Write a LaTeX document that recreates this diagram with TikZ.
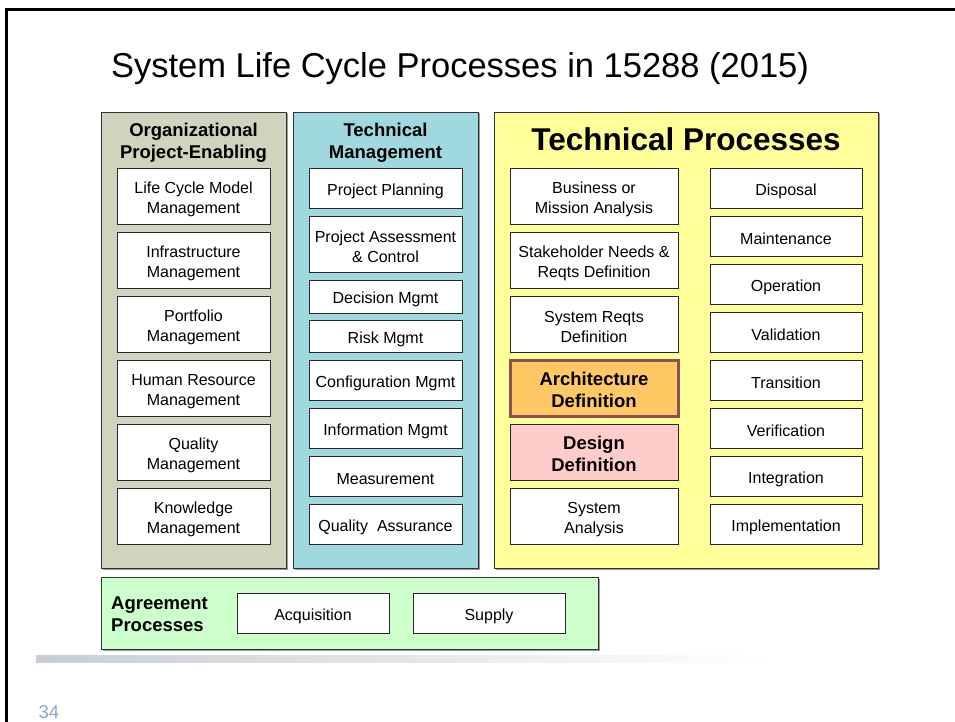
\documentclass[tikz,border=0pt]{standalone}
\usepackage{fontspec}
\setmainfont{Liberation Sans}
\usetikzlibrary{shadows}

\definecolor{orgGreen}{RGB}{206,212,190}
\definecolor{tmBlue}{RGB}{160,216,224}
\definecolor{tpYellow}{RGB}{255,255,153}
\definecolor{agrGreen}{RGB}{204,255,204}
\definecolor{archOrange}{RGB}{255,200,100}
\definecolor{archBrown}{RGB}{140,82,82}
\definecolor{designPink}{RGB}{255,204,204}
\definecolor{barGrey}{RGB}{200,206,211}
\definecolor{pageBlue}{RGB}{140,165,200}

% invisible strut that lowers the text a little inside its box
\newcommand{\boxStrut}{\rule{0pt}{17.5pt}}

\begin{document}
\begin{tikzpicture}
[x=1pt,y=-1pt,
  groupBox/.style={shape=rectangle,draw=black!80,line width=0.9pt,inner sep=0pt,%
    drop shadow={shadow xshift=1.5pt,shadow yshift=-1.5pt,fill=black!40,opacity=1}},%
  procBox/.style={shape=rectangle,draw=black!85,line width=0.9pt,fill=white,inner sep=0pt,%
    align=center,font=\fontsize{16}{20}\selectfont},%
  headText/.style={align=center,inner sep=0pt,font=\fontsize{18.5}{22}\selectfont\bfseries}]
\useasboundingbox (0,0) rectangle (955,722);

%% slide frame, title and footer
\draw[line width=3pt] (6,722) -- (6,9.5) -- (955,9.5);
\node (title) [anchor=base,inner sep=0pt,font=\fontsize{34.5}{40}\selectfont]
  at (460,78) {System Life Cycle Processes in 15288 (2015)};
\shade[left color=barGrey,middle color=barGrey!80,right color=white] (36,655) rectangle (770,662);
\node (pageNum) [text=pageBlue,inner sep=0pt,font=\fontsize{18.5}{20}\selectfont] at (49,712) {34};

%% process groups
\node (orgCol) [groupBox,fill=orgGreen,minimum width=185,minimum height=456] at (193.5,340) {};
\node (tmCol) [groupBox,fill=tmBlue,minimum width=185,minimum height=456] at (385.5,340) {};
\node (tpCol) [groupBox,fill=tpYellow,minimum width=384,minimum height=456] at (686,340) {};
\node (agrCol) [groupBox,fill=agrGreen,minimum width=497,minimum height=72] at (349.5,613) {};

\node (orgHead) [headText] at (193.5,143) {Organizational\\Project-Enabling};
\node (tmHead) [headText] at (385.5,143) {Technical\\Management};
\node (tpHead) [headText,font=\fontsize{31.5}{36}\selectfont\bfseries] at (686,139) {Technical Processes};
\node (agrHead) [headText,align=left,anchor=west] at (111,614) {Agreement\\Processes};

%% organizational project-enabling processes
\foreach \nodename/\y/\txt in {lcm/196/{Life Cycle Model\\Management},
  infra/260/{Infrastructure\\Management}, port/324/{Portfolio\\Management},
  hr/388/{Human Resource\\Management}, qual/452/{Quality\\Management},
  know/516/{Knowledge\\Management}}
{
  \node (\nodename) at (193.5,\y) [procBox,minimum width=153,minimum height=56] {\boxStrut\txt};
}

%% technical management processes
\foreach \nodename/\y/\h/\txt in {plan/188/40/{Project Planning},
  assess/244/56/{Project Assessment\\\& Control}, decision/296.5/33/{Decision Mgmt},
  risk/336/32/{Risk Mgmt}, config/380/40/{Configuration Mgmt},
  info/428/40/{Information Mgmt}, measure/476/40/{Measurement},
  qa/524/40/{Quality\ \ Assurance}}
{
  \node (\nodename) at (385.5,\y) [procBox,minimum width=153,minimum height=\h] {\boxStrut\txt};
}

%% technical processes, left column
\foreach \nodename/\y/\txt in {mission/196/{Business or\\Mission Analysis},
  stake/260/{Stakeholder Needs \&\\Reqts Definition}, sysreq/324/{System Reqts\\Definition},
  analysis/516/{System\\Analysis}}
{
  \node (\nodename) at (594,\y) [procBox,minimum width=168,minimum height=56] {\boxStrut\txt};
}
\node (arch) at (594,388) [procBox,minimum width=168,minimum height=56,fill=archOrange,%
  draw=archBrown,line width=3pt,font=\fontsize{18.5}{22}\selectfont\bfseries]
  {\boxStrut Architecture\\Definition};
\node (design) at (594,452) [procBox,minimum width=168,minimum height=56,fill=designPink,%
  font=\fontsize{18.5}{22}\selectfont\bfseries] {\boxStrut Design\\Definition};

%% technical processes, right column
\foreach \nodename/\y in {Disposal/188, Maintenance/236, Operation/284, Validation/332,
  Transition/380, Verification/428, Integration/476, Implementation/524}
{
  \node (\nodename) at (786,\y) [procBox,minimum width=152,minimum height=40] {\boxStrut\nodename};
}

%% agreement processes
\foreach \nodename/\x in {Acquisition/313, Supply/489}
{
  \node (\nodename) at (\x,613) [procBox,minimum width=152,minimum height=40] {\boxStrut\nodename};
}
\end{tikzpicture}
\end{document}
